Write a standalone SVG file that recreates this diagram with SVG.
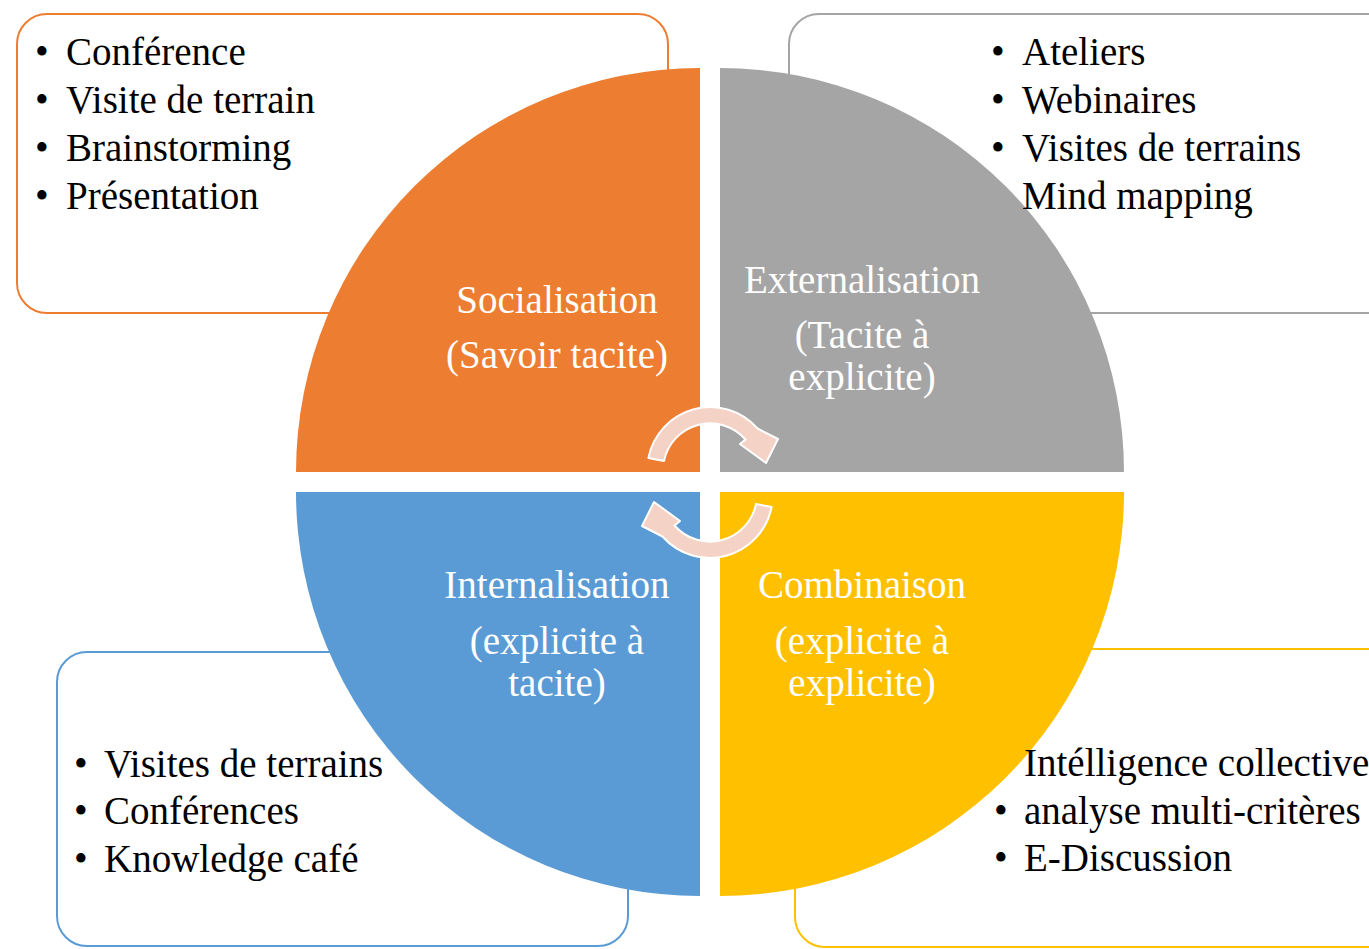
<svg xmlns="http://www.w3.org/2000/svg" width="1369" height="949" viewBox="0 0 1369 949">
  <style>
    .box { fill: #FFFFFF; stroke-width: 2; }
    .item { font-family: "Liberation Serif", "Times New Roman", serif; font-size: 39px; fill: #000000; }
    .label { font-family: "Liberation Serif", "Times New Roman", serif; font-size: 39px; fill: #FFFFFF; text-anchor: middle; }
    .arrow { fill: #F4D2C6; stroke: #FFFFFF; stroke-width: 2; stroke-linejoin: round; }
  </style>
  <defs>
    <path id="cyc" d="M 648.4 457.9 A 63 63 0 0 1 757.5 428.5 L 778 439 L 766 463 L 740 444 L 745.5 439.5 A 47 47 0 0 0 664 461 Z"/>
  </defs>
  <rect width="1369" height="949" fill="#FFFFFF"/>

  <!-- detail boxes -->
  <g id="box-socialisation">
    <rect class="box" x="17" y="14" width="651" height="299" rx="30" stroke="#ED7D31"/>
    <text class="item" x="35" y="65">•</text><text class="item" x="66" y="65">Conférence</text>
    <text class="item" x="35" y="113">•</text><text class="item" x="66" y="113">Visite de terrain</text>
    <text class="item" x="35" y="161">•</text><text class="item" x="66" y="161">Brainstorming</text>
    <text class="item" x="35" y="209">•</text><text class="item" x="66" y="209">Présentation</text>
  </g>
  <g id="box-externalisation">
    <rect class="box" x="789" y="14" width="640" height="299" rx="30" stroke="#A5A5A5"/>
    <text class="item" x="991" y="65">•</text><text class="item" x="1022" y="65">Ateliers</text>
    <text class="item" x="991" y="113">•</text><text class="item" x="1022" y="113">Webinaires</text>
    <text class="item" x="991" y="161">•</text><text class="item" x="1022" y="161">Visites de terrains</text>
  </g>
  <g id="box-internalisation">
    <rect class="box" x="57" y="652" width="571" height="294" rx="30" stroke="#5B9BD5"/>
    <text class="item" x="74" y="777">•</text><text class="item" x="104" y="777">Visites de terrains</text>
    <text class="item" x="74" y="824">•</text><text class="item" x="104" y="824">Conférences</text>
    <text class="item" x="74" y="872">•</text><text class="item" x="104" y="872">Knowledge café</text>
  </g>
  <g id="box-combinaison">
    <rect class="box" x="795" y="649" width="640" height="298" rx="30" stroke="#FFC000"/>
    <text class="item" x="994" y="824">•</text><text class="item" x="1024" y="824">analyse multi-critères</text>
    <text class="item" x="994" y="871">•</text><text class="item" x="1024" y="871">E-Discussion</text>
  </g>

  <!-- quadrants -->
  <g id="q-socialisation">
    <path d="M 700 472 L 296 472 A 404 404 0 0 1 700 68 Z" fill="#ED7D31"/>
    <text class="label" x="557" y="313">Socialisation</text>
    <text class="label" x="557" y="368">(Savoir tacite)</text>
  </g>
  <g id="q-externalisation">
    <path d="M 720 472 L 720 68 A 404 404 0 0 1 1124 472 Z" fill="#A5A5A5"/>
    <text class="label" x="862" y="293">Externalisation</text>
    <text class="label" x="862" y="348">(Tacite à</text>
    <text class="label" x="862" y="390">explicite)</text>
  </g>
  <g id="q-combinaison">
    <path d="M 720 492 L 1124 492 A 404 404 0 0 1 720 896 Z" fill="#FFC000"/>
    <text class="label" x="862" y="598">Combinaison</text>
    <text class="label" x="862" y="654">(explicite à</text>
    <text class="label" x="862" y="696">explicite)</text>
  </g>
  <g id="q-internalisation">
    <path d="M 700 492 L 700 896 A 404 404 0 0 1 296 492 Z" fill="#5B9BD5"/>
    <text class="label" x="557" y="598">Internalisation</text>
    <text class="label" x="557" y="654">(explicite à</text>
    <text class="label" x="557" y="696">tacite)</text>
  </g>

  <!-- list lines drawn over the quadrants -->
  <g id="overlap-text">
    <text class="item" x="1022" y="209">Mind mapping</text>
    <text class="item" x="1024" y="776">Intélligence collective</text>
  </g>

  <!-- cycle arrows -->
  <g id="connectors">
    <use href="#cyc" class="arrow"/>
    <use href="#cyc" class="arrow" transform="rotate(180 710 482.5)"/>
  </g>
</svg>
